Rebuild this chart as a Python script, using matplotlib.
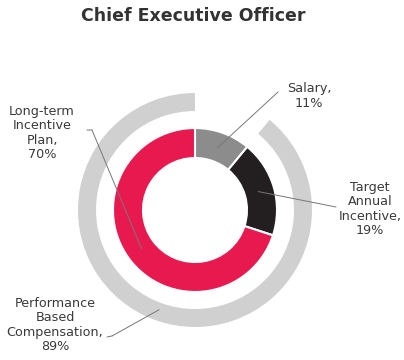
import numpy as np
import matplotlib
matplotlib.use("Agg")
import matplotlib.pyplot as plt

# data
comp_labels = ["Salary,\n11%", "Target\nAnnual\nIncentive,\n19%", "Long-term\nIncentive\nPlan,\n70%"]
comp_values = [11, 19, 70]
comp_colors = ["#8c8c8c", "#231f20", "#e8194f"]

perf_label = "Performance\nBased\nCompensation,\n89%"
perf_value = 89

# label text positions (pixels from top-left) and where the leader line stops
label_pos = [(309, 96), (370, 209), (42, 133)]
line_end = [(278, 92), (336, 207), (92, 130)]
perf_pos = (55, 325)
perf_end = (112, 336)

W, H = 404, 360
cx, cy = 195, 150

fig = plt.figure(figsize=(4.04, 3.6), dpi=100)
ax = fig.add_axes([0, 0, 1, 1])

# inner ring
wedges, _ = ax.pie(comp_values, colors=comp_colors, startangle=90, counterclock=False,
                   radius=82, center=(cx, cy),
                   wedgeprops=dict(width=30, edgecolor="white", linewidth=1.5))

# outer ring: performance based part only
ax.pie([100 - perf_value, perf_value], colors=["none", "#d0d0d0"], startangle=90,
       counterclock=False, radius=117, center=(cx, cy),
       wedgeprops=dict(width=18, edgecolor="none"))

ax.set_xlim(0, W)
ax.set_ylim(0, H)
ax.set_aspect("equal")
ax.axis("off")

txt_kw = dict(ha="center", va="center", fontsize=9.2, color="#3a3a3a", linespacing=1.15)
line_kw = dict(arrowstyle="-", color="#777777", lw=0.7, shrinkA=0, shrinkB=0)

# leader lines from wedge middles
start = 90.0
for lab, val, pos, end in zip(comp_labels, comp_values, label_pos, line_end):
    mid = np.deg2rad(start - val * 3.6 / 2)
    start -= val * 3.6
    px, py = cx + 66 * np.cos(mid), cy + 66 * np.sin(mid)
    ax.annotate("", xy=(px, py), xytext=(end[0], H - end[1]), arrowprops=line_kw)
    ax.text(pos[0], H - pos[1], lab, **txt_kw)

# small horizontal tick on the LTIP line
ax.annotate("", xy=(line_end[2][0], H - line_end[2][1]), xytext=(line_end[2][0] - 5, H - line_end[2][1]),
            arrowprops=line_kw)

mid = np.deg2rad(90 - (100 - perf_value) * 3.6 - perf_value * 3.6 / 2)
px, py = cx + 106 * np.cos(mid), cy + 106 * np.sin(mid)
ax.annotate("", xy=(px, py), xytext=(perf_end[0], H - perf_end[1]), arrowprops=line_kw)
ax.annotate("", xy=(perf_end[0], H - perf_end[1]), xytext=(perf_end[0] - 5, H - perf_end[1] - 1),
            arrowprops=line_kw)
ax.text(perf_pos[0], H - perf_pos[1], perf_label, **txt_kw)

ax.text(193, H - 16, "Chief Executive Officer", ha="center", va="center",
        fontsize=12.5, fontweight="bold", color="#333333")

fig.savefig("out.png", dpi=100)
